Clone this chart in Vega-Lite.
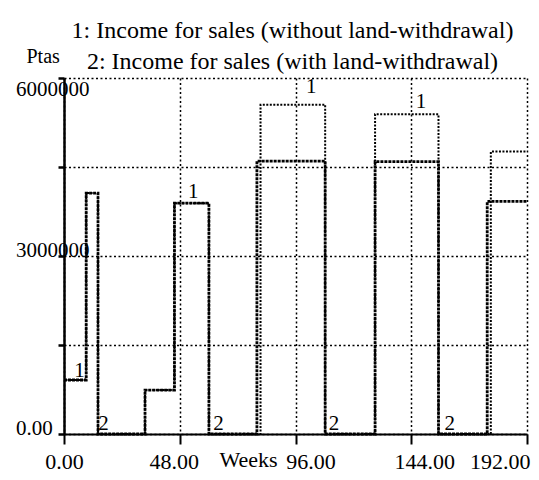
{
  "$schema": "https://vega.github.io/schema/vega-lite/v6.json",
  "width": 463,
  "height": 356,
  "autosize": {"type": "none"},
  "padding": {"left": 64, "top": 78, "right": 12, "bottom": 46},
  "background": "white",
  "config": {
    "view": {"stroke": null},
    "font": "Liberation Serif"
  },
  "title": {
    "text": ["1: Income for sales (without land-withdrawal)", "2: Income for sales (with land-withdrawal)"],
    "anchor": "middle",
    "frame": "group",
    "font": "Liberation Serif",
    "fontSize": 24,
    "fontWeight": "normal",
    "color": "black",
    "lineHeight": 31,
    "baseline": "alphabetic",
    "offset": 0,
    "dx": -3,
    "dy": 47
  },
  "datasets": {
    "series": [
      {"week": 0, "value": 910000, "series": "1"},
      {"week": 9.2, "value": 4060000, "series": "1"},
      {"week": 14.1, "value": 0, "series": "1"},
      {"week": 33.6, "value": 740000, "series": "1"},
      {"week": 45.8, "value": 3890000, "series": "1"},
      {"week": 60.1, "value": 0, "series": "1"},
      {"week": 81.5, "value": 5550000, "series": "1"},
      {"week": 108.3, "value": 0, "series": "1"},
      {"week": 129, "value": 5390000, "series": "1"},
      {"week": 155.3, "value": 0, "series": "1"},
      {"week": 177, "value": 4760000, "series": "1"},
      {"week": 192, "value": 4760000, "series": "1"},
      {"week": 0, "value": 910000, "series": "2"},
      {"week": 9.2, "value": 4060000, "series": "2"},
      {"week": 14.1, "value": 0, "series": "2"},
      {"week": 33.6, "value": 740000, "series": "2"},
      {"week": 45.8, "value": 3890000, "series": "2"},
      {"week": 60.1, "value": 0, "series": "2"},
      {"week": 80, "value": 4600000, "series": "2"},
      {"week": 108.3, "value": 0, "series": "2"},
      {"week": 129, "value": 4590000, "series": "2"},
      {"week": 155.3, "value": 0, "series": "2"},
      {"week": 175.5, "value": 3920000, "series": "2"},
      {"week": 192, "value": 3920000, "series": "2"}
    ],
    "labels": [
      {"week": 6.4, "value": 960000, "label": "1"},
      {"week": 53.6, "value": 3980000, "label": "1"},
      {"week": 102.5, "value": 5750000, "label": "1"},
      {"week": 148, "value": 5490000, "label": "1"},
      {"week": 16.4, "value": 70000, "label": "2"},
      {"week": 64.1, "value": 70000, "label": "2"},
      {"week": 112, "value": 70000, "label": "2"},
      {"week": 160, "value": 70000, "label": "2"}
    ]
  },
  "layer": [
    {
      "data": {"name": "series"},
      "transform": [{"filter": "datum.series == '1'"}],
      "mark": {"type": "line", "interpolate": "step-after", "color": "black", "strokeWidth": 2, "strokeDash": [2, 1.5], "clip": false},
      "encoding": {
        "x": {
          "field": "week", "type": "quantitative",
          "scale": {"domain": [0, 192], "nice": false, "zero": false},
          "axis": {
            "values": [0, 48, 96, 144, 192],
            "format": ".2f",
            "grid": true,
            "gridColor": "black",
            "gridDash": [2, 2.5],
            "gridWidth": 1.5,
            "gridOpacity": 1,
            "domainColor": "black",
            "domainWidth": 2,
            "tickColor": "black",
            "tickWidth": 2,
            "tickSize": 10,
            "labelFont": "Liberation Serif",
            "labelFontSize": 22,
            "labelColor": "black",
            "labelBaseline": "top",
            "labelPadding": 7,
            "labelFlush": false,
            "labelOverlap": false,
            "labelAlign": {"condition": {"test": "datum.value == 192", "value": "right"}, "value": "center"},
            "labelOffset": {"condition": [
              {"test": "datum.value == 48", "value": -6},
              {"test": "datum.value == 96", "value": 15},
              {"test": "datum.value == 144", "value": 13},
              {"test": "datum.value == 192", "value": 3}
            ], "value": 0},
            "title": "Weeks",
            "titleFont": "Liberation Serif",
            "titleFontSize": 22,
            "titleFontWeight": "normal",
            "titleColor": "black",
            "titleX": 184,
            "titleY": 32,
            "titleAlign": "center",
            "titleBaseline": "alphabetic"
          }
        },
        "y": {
          "field": "value", "type": "quantitative",
          "scale": {"domain": [0, 6000000], "nice": false},
          "axis": {
            "values": [0, 1500000, 3000000, 4500000, 6000000],
            "labelExpr": "datum.value == 0 ? '0.00' : (datum.value == 3000000 || datum.value == 6000000 ? format(datum.value, 'd') : '')",
            "grid": true,
            "gridColor": "black",
            "gridDash": [2, 2.5],
            "gridWidth": 1.5,
            "gridOpacity": 1,
            "domainColor": "black",
            "domainWidth": 2.5,
            "tickColor": "black",
            "tickWidth": 2.5,
            "tickSize": 6,
            "labelFont": "Liberation Serif",
            "labelFontSize": 21,
            "labelColor": "black",
            "labelAlign": "left",
            "labelPadding": 42.5,
            "labelBaseline": {"condition": {"test": "datum.value == 6000000", "value": "top"}, "value": "alphabetic"},
            "labelFlush": false,
            "labelOverlap": false,
            "title": "Ptas",
            "titleFont": "Liberation Serif",
            "titleFontSize": 20,
            "titleFontWeight": "normal",
            "titleColor": "black",
            "titleAngle": 0,
            "titleAlign": "left",
            "titleBaseline": "alphabetic",
            "titleX": -38,
            "titleY": -16
          }
        }
      }
    },
    {
      "data": {"name": "series"},
      "transform": [{"filter": "datum.series == '2'"}],
      "mark": {"type": "line", "interpolate": "step-after", "color": "black", "strokeWidth": 2.8, "strokeDash": [3, 1], "clip": false},
      "encoding": {
        "x": {"field": "week", "type": "quantitative"},
        "y": {"field": "value", "type": "quantitative"}
      }
    },
    {
      "data": {"name": "labels"},
      "mark": {"type": "text", "font": "Liberation Serif", "fontSize": 21, "color": "black", "align": "center", "baseline": "alphabetic"},
      "encoding": {
        "x": {"field": "week", "type": "quantitative"},
        "y": {"field": "value", "type": "quantitative"},
        "text": {"field": "label"}
      }
    }
  ]
}
